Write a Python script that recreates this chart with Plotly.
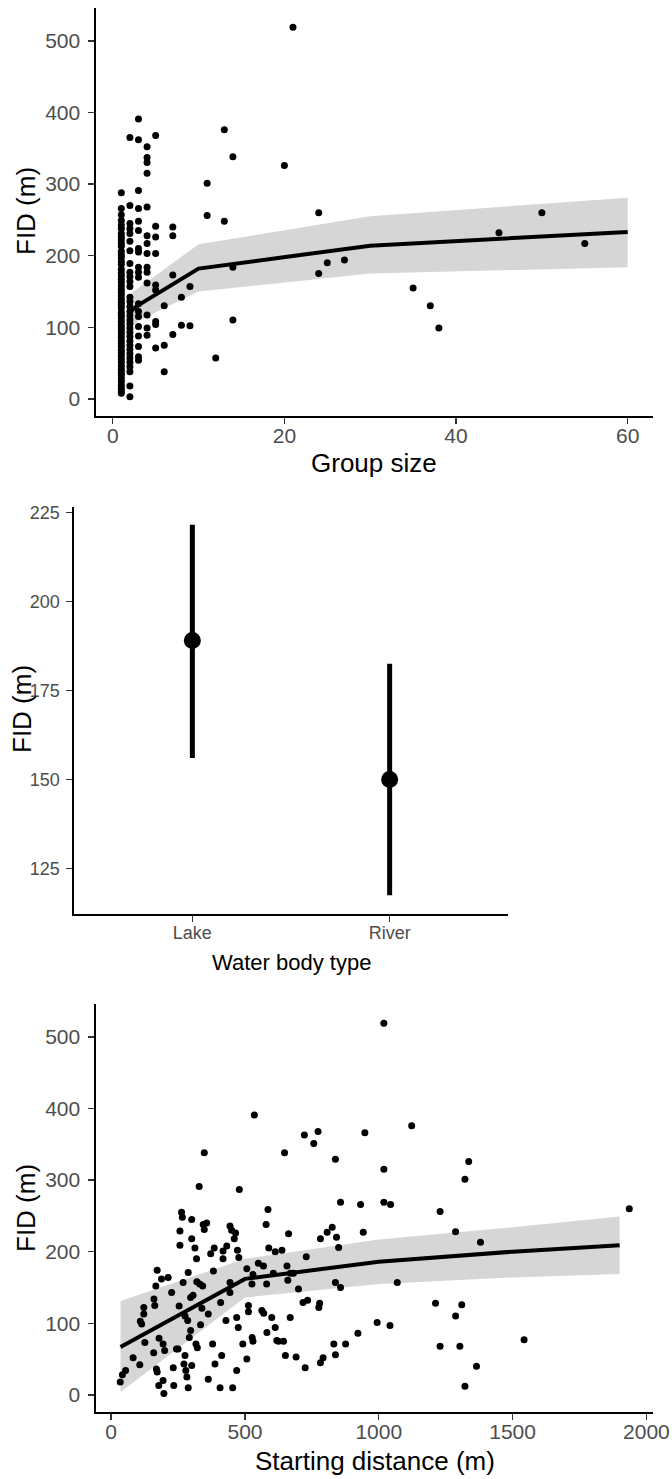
import plotly.graph_objects as go

# ---------------- Panel 1: Group size ----------------
gs_x = ([1]*56 + [2]*32 + [3]*19 + [4]*14 + [5]*9 + [6]*3 + [7]*4 + [8]*2 + [9]*2 +
        [11]*2 + [12] + [13]*2 + [14]*3 + [20] + [21] + [24]*2 + [25] + [27] + [35] + [37] + [38] +
        [45] + [50] + [55])
gs_y = ([288, 266, 257, 249, 243, 238, 231, 226, 222, 217, 213, 206, 201, 197, 192, 188, 181, 176,
         172, 167, 163, 158, 153, 149, 144, 139, 135, 131, 127, 121, 117, 113, 108, 103, 99, 95, 91,
         86, 81, 77, 73, 68, 64, 60, 55, 51, 46, 41, 37, 33, 28, 24, 19, 15, 11, 8] +
        [365, 270, 245, 238, 231, 220, 207, 189, 177, 171, 164, 157, 142, 136, 129, 122, 116, 110,
         105, 99, 93, 87, 81, 75, 69, 63, 57, 51, 45, 38, 18, 3] +
        [391, 362, 291, 266, 248, 235, 210, 205, 184, 177, 170, 133, 122, 115, 101, 88, 73, 59, 54] +
        [352, 337, 330, 315, 268, 228, 217, 203, 184, 177, 162, 117, 99, 89] +
        [368, 241, 226, 203, 159, 152, 108, 104, 71] +
        [130, 75, 38] +
        [240, 228, 173, 90] +
        [142, 103] +
        [157, 102] +
        [301, 256] + [57] + [376, 248] + [338, 184, 110] + [326] + [519] + [260, 175] + [190] +
        [194] + [155] + [130] + [99] + [232] + [260] + [217])
gs_fit_x = [2, 3, 10, 30, 60]
gs_fit_y = [122, 131, 182, 214, 233]
gs_fit_lo = [98, 109, 150, 175, 184]
gs_fit_hi = [146, 155, 216, 255, 281]

# ---------------- Panel 2: Water body type ----------------
wb_cat = ["Lake", "River"]
wb_mean = [189, 150]
wb_lo = [156, 117.5]
wb_hi = [221.5, 182.5]

# ---------------- Panel 3: Starting distance ----------------
sd_x = [34, 42, 54, 82, 107, 109, 114, 122, 122, 126, 160, 163, 167, 172, 159, 169, 178, 172, 179, 188,
        194, 194, 197, 200, 213, 226, 232, 234, 244, 250, 257, 263, 266, 257, 254, 269, 276, 272, 276, 279,
        283, 288, 288, 286, 297, 301, 301, 292, 297, 301, 306, 313, 319, 317, 322, 320, 329, 331, 334, 339,
        342, 344, 348, 348, 357, 363, 363, 379, 372, 385, 382, 388, 407, 409, 413, 418, 418, 429, 432, 444,
        444, 450, 444, 454, 469, 469, 472, 477, 475, 479, 465, 460, 492, 507, 507, 513, 513, 526, 527, 530,
        530, 550, 563, 570, 569, 579, 581, 582, 586, 589, 600, 606, 613, 638, 613, 619, 625, 644, 651, 648,
        663, 657, 660, 670, 669, 681, 691, 725, 700, 729, 717, 734, 782, 776, 779, 782, 792, 807, 826, 838,
        842, 850, 857, 838, 857, 832, 838, 876, 922, 932, 942, 994, 1019, 1019, 1044, 1042, 1069, 535, 722, 757,
        773, 1019, 1123, 948, 1336, 1322, 1229, 1936, 1287, 1380, 1212, 1310, 1287, 1229, 1303, 1543, 1365, 1322]
sd_y = [18, 28, 34, 52, 42, 103, 99, 113, 122, 73, 134, 125, 152, 174, 59, 36, 13, 32, 79, 162,
        20, 71, 2, 62, 164, 143, 38, 13, 64, 64, 229, 255, 248, 209, 124, 157, 110, 43, 55, 34,
        25, 10, 171, 104, 136, 245, 218, 80, 90, 41, 139, 205, 190, 71, 66, 158, 291, 155, 98, 121,
        152, 238, 231, 338, 240, 113, 22, 71, 197, 205, 173, 43, 10, 129, 55, 201, 190, 104, 208, 143,
        236, 230, 157, 10, 34, 108, 202, 192, 94, 287, 226, 218, 71, 50, 176, 125, 116, 155, 80, 75,
        168, 184, 118, 114, 180, 238, 155, 87, 259, 205, 108, 170, 200, 202, 94, 76, 75, 75, 55, 338,
        225, 180, 160, 170, 108, 170, 53, 38, 148, 193, 129, 132, 218, 122, 128, 45, 52, 227, 234, 329,
        220, 206, 269, 157, 150, 71, 56, 71, 86, 266, 227, 101, 315, 269, 266, 97, 157, 391, 363, 351,
        368, 519, 376, 366, 326, 301, 256, 260, 228, 213, 128, 126, 110, 68, 68, 77, 40, 12]
sd_fit_x = [35, 500, 1000, 1500, 1900]
sd_fit_y = [67, 162, 186, 200, 209]
sd_fit_lo = [4, 136, 155, 164, 169]
sd_fit_hi = [131, 190, 217, 234, 249]

W, H = 672, 1479
BAND = "#d6d6d6"
FAMILY = "Liberation Sans, Arial, sans-serif"
TICKFONT = dict(family=FAMILY, size=21, color="#4d4d4d")
TITLEFONT = dict(family=FAMILY, size=26, color="black")


def px_x(p):
    return p / W


def px_y(p):
    return 1 - p / H


fig = go.Figure()

# Panel 1
fig.add_trace(go.Scatter(x=gs_fit_x, y=gs_fit_lo, mode="lines", line=dict(width=0), showlegend=False,
                         xaxis="x", yaxis="y", hoverinfo="skip"))
fig.add_trace(go.Scatter(x=gs_fit_x, y=gs_fit_hi, mode="lines", line=dict(width=0), fill="tonexty",
                         fillcolor=BAND, showlegend=False, xaxis="x", yaxis="y", hoverinfo="skip"))
fig.add_trace(go.Scatter(x=gs_x, y=gs_y, mode="markers", marker=dict(size=7, color="black"),
                         showlegend=False, xaxis="x", yaxis="y"))
fig.add_trace(go.Scatter(x=gs_fit_x, y=gs_fit_y, mode="lines", line=dict(width=4, color="black"),
                         showlegend=False, xaxis="x", yaxis="y"))

# Panel 2
fig.add_trace(go.Scatter(
    x=wb_cat, y=wb_mean, mode="markers",
    marker=dict(size=17, color="black"),
    error_y=dict(type="data", symmetric=False,
                 array=[h - m for h, m in zip(wb_hi, wb_mean)],
                 arrayminus=[m - l for m, l in zip(wb_mean, wb_lo)],
                 thickness=5, width=0, color="black"),
    showlegend=False, xaxis="x2", yaxis="y2"))

# Panel 3
fig.add_trace(go.Scatter(x=sd_fit_x, y=sd_fit_lo, mode="lines", line=dict(width=0), showlegend=False,
                         xaxis="x3", yaxis="y3", hoverinfo="skip"))
fig.add_trace(go.Scatter(x=sd_fit_x, y=sd_fit_hi, mode="lines", line=dict(width=0), fill="tonexty",
                         fillcolor=BAND, showlegend=False, xaxis="x3", yaxis="y3", hoverinfo="skip"))
fig.add_trace(go.Scatter(x=sd_x, y=sd_y, mode="markers", marker=dict(size=7, color="black"),
                         showlegend=False, xaxis="x3", yaxis="y3"))
fig.add_trace(go.Scatter(x=sd_fit_x, y=sd_fit_y, mode="lines", line=dict(width=4, color="black"),
                         showlegend=False, xaxis="x3", yaxis="y3"))


def axis(**kw):
    base = dict(showline=True, linecolor="black", linewidth=1.6, showgrid=False, zeroline=False,
                ticks="outside", ticklen=6, tickwidth=1.4, tickcolor="#333333",
                tickfont=dict(TICKFONT), automargin=False, mirror=False, fixedrange=True)
    base.update(kw)
    return base


mid_tick = dict(family=FAMILY, size=18, color="#4d4d4d")

fig.update_layout(
    width=W, height=H,
    margin=dict(l=0, r=0, t=0, b=0),
    paper_bgcolor="white", plot_bgcolor="white",
    showlegend=False,
    xaxis=axis(domain=[px_x(96), px_x(653)], anchor="y", range=[-1.95, 62.95],
               tickvals=[0, 20, 40, 60], ticklabelstandoff=-6),
    yaxis=axis(domain=[px_y(416), px_y(8)], anchor="x", range=[-23.9, 545.9],
               tickvals=[0, 100, 200, 300, 400, 500], ticklabelstandoff=4),
    xaxis2=axis(domain=[px_x(74), px_x(508)], anchor="y2", type="category",
                range=[-0.6, 1.6], tickfont=mid_tick, ticklabelstandoff=-4),
    yaxis2=axis(domain=[px_y(914), px_y(507)], anchor="x2", range=[112.2, 226.5],
                tickvals=[125, 150, 175, 200, 225], tickfont=mid_tick, ticklabelstandoff=3),
    xaxis3=axis(domain=[px_x(96), px_x(653)], anchor="y3", range=[-56.6, 2024.6],
                tickvals=[0, 500, 1000, 1500, 2000], ticklabelstandoff=-6),
    yaxis3=axis(domain=[px_y(1412), px_y(1004)], anchor="x3", range=[-23.9, 545.9],
                tickvals=[0, 100, 200, 300, 400, 500], ticklabelstandoff=4),
)

annots = [
    dict(text="FID (m)", x=px_x(26), y=px_y(211), textangle=-90, font=TITLEFONT),
    dict(text="Group size", x=px_x(374), y=px_y(463), font=TITLEFONT),
    dict(text="FID (m)", x=px_x(22), y=px_y(709), textangle=-90, font=TITLEFONT),
    dict(text="Water body type", x=px_x(291), y=px_y(962), font=dict(family=FAMILY, size=22, color="black")),
    dict(text="FID (m)", x=px_x(26), y=px_y(1208), textangle=-90, font=TITLEFONT),
    dict(text="Starting distance (m)", x=px_x(375), y=px_y(1461), font=TITLEFONT),
]
for a in annots:
    fig.add_annotation(xref="paper", yref="paper", showarrow=False, xanchor="center", yanchor="middle", **a)

fig.write_html("out.html",
               config={"displayModeBar": False, "staticPlot": True},
               post_script="document.body.style.margin='0px';document.body.style.overflow='hidden';")
